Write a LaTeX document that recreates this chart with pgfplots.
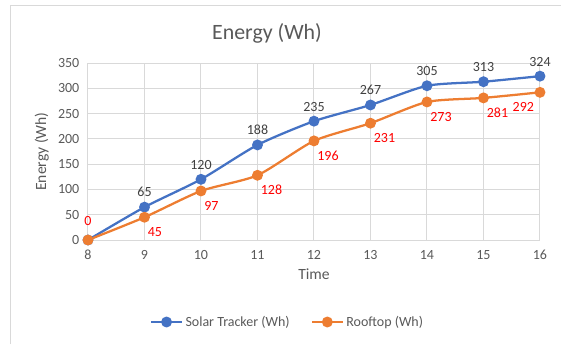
\documentclass[border=0pt]{standalone}
\usepackage{pgfplots}
\pgfplotsset{compat=1.18}
\usepackage{fontspec}
\setmainfont{Carlito}
\definecolor{blueS}{HTML}{4472C4}
\definecolor{orangeR}{HTML}{ED7D31}
\definecolor{gridc}{HTML}{D9D9D9}
\definecolor{txt}{HTML}{595959}
\definecolor{lbl}{HTML}{404040}
\definecolor{redl}{HTML}{FF0000}
\pgfplotsset{
  lblfont/.style={font=\fontsize{10.5}{12}\selectfont},
}
\begin{document}
\begin{tikzpicture}
\path[use as bounding box] (-66pt,-78pt) rectangle (354.75pt,180pt);
\draw[gridc, line width=0.75pt] (-57.75pt,-78pt) -- (-57.75pt,176.25pt) -- (354.75pt,176.25pt);
\node[font=\fontsize{16.4}{18}\selectfont, text=txt] at (134.25pt,155.25pt) {Energy (Wh)};
\begin{axis}[
  at={(0,0)}, anchor=south west,
  scale only axis, width=339pt, height=132.75pt,
  xmin=8, xmax=16, ymin=0, ymax=350,
  xtick={8,...,16}, ytick={0,50,...,350},
  grid=major, major grid style={gridc, line width=0.75pt},
  axis line style={draw=none},
  tick style={draw=none},
  /pgf/number format/assume math mode=true,
  ticklabel style={font=\fontsize{10.5}{12}\selectfont, text=txt},
  yticklabel style={xshift=-3pt},
  xticklabel style={yshift=-4pt},
  xlabel={Time}, ylabel={Energy (Wh)},
  label style={font=\fontsize{11.7}{13}\selectfont, text=txt},
  xlabel style={yshift=0pt},
  ylabel style={yshift=0pt},
  legend style={at={(150pt,-61.5pt)}, anchor=center, draw=none, fill=none,
    legend columns=2, font=\fontsize{10.5}{12}\selectfont, text=txt,
    /tikz/every even column/.append style={column sep=14pt}},
  legend image code/.code={
    \draw[#1, mark repeat=2, mark phase=2] plot coordinates {(0cm,0cm)(0.4cm,0cm)(0.8cm,0cm)};},
  legend cell align=left,
  clip=false,
]
\addplot[blueS, line width=1.7pt, smooth, tension=0.4, mark=*, mark size=3.2pt,
  mark options={fill=blueS, draw=blueS}]
coordinates {(8,0)(9,65)(10,120)(11,188)(12,235)(13,267)(14,305)(15,313)(16,324)};
\addlegendentry{Solar Tracker (Wh)}
\addplot[orangeR, line width=1.7pt, smooth, tension=0.4, mark=*, mark size=3.2pt,
  mark options={fill=orangeR, draw=orangeR}]
coordinates {(8,0)(9,45)(10,97)(11,128)(12,196)(13,231)(14,273)(15,281)(16,292)};
\addlegendentry{Rooftop (Wh)}
% data labels
\addplot[draw=none, forget plot,
  nodes near coords, nodes near coords style={font=\fontsize{10.5}{12}\selectfont, text=lbl, anchor=south, yshift=4pt},
  /pgf/number format/assume math mode=true]
coordinates {(9,65)(10,120)(11,188)(12,235)(13,267)(14,305)(15,313)(16,324)};
\addplot[draw=none, forget plot,
  nodes near coords, nodes near coords style={font=\fontsize{10.5}{12}\selectfont, text=redl, anchor=north west, yshift=-4pt, xshift=-1pt},
  /pgf/number format/assume math mode=true]
coordinates {(9,45)(10,97)(11,128)(12,196)(13,231)(14,273)(15,281)};
\addplot[draw=none, forget plot,
  nodes near coords, nodes near coords style={font=\fontsize{10.5}{12}\selectfont, text=redl, anchor=north east, yshift=-4pt, xshift=-1pt},
  /pgf/number format/assume math mode=true]
coordinates {(16,292)};
\addplot[draw=none, forget plot,
  nodes near coords, nodes near coords style={font=\fontsize{10.5}{12}\selectfont, text=redl, anchor=south, yshift=7pt},
  /pgf/number format/assume math mode=true]
coordinates {(8,0)};
\end{axis}
\end{tikzpicture}
\end{document}
